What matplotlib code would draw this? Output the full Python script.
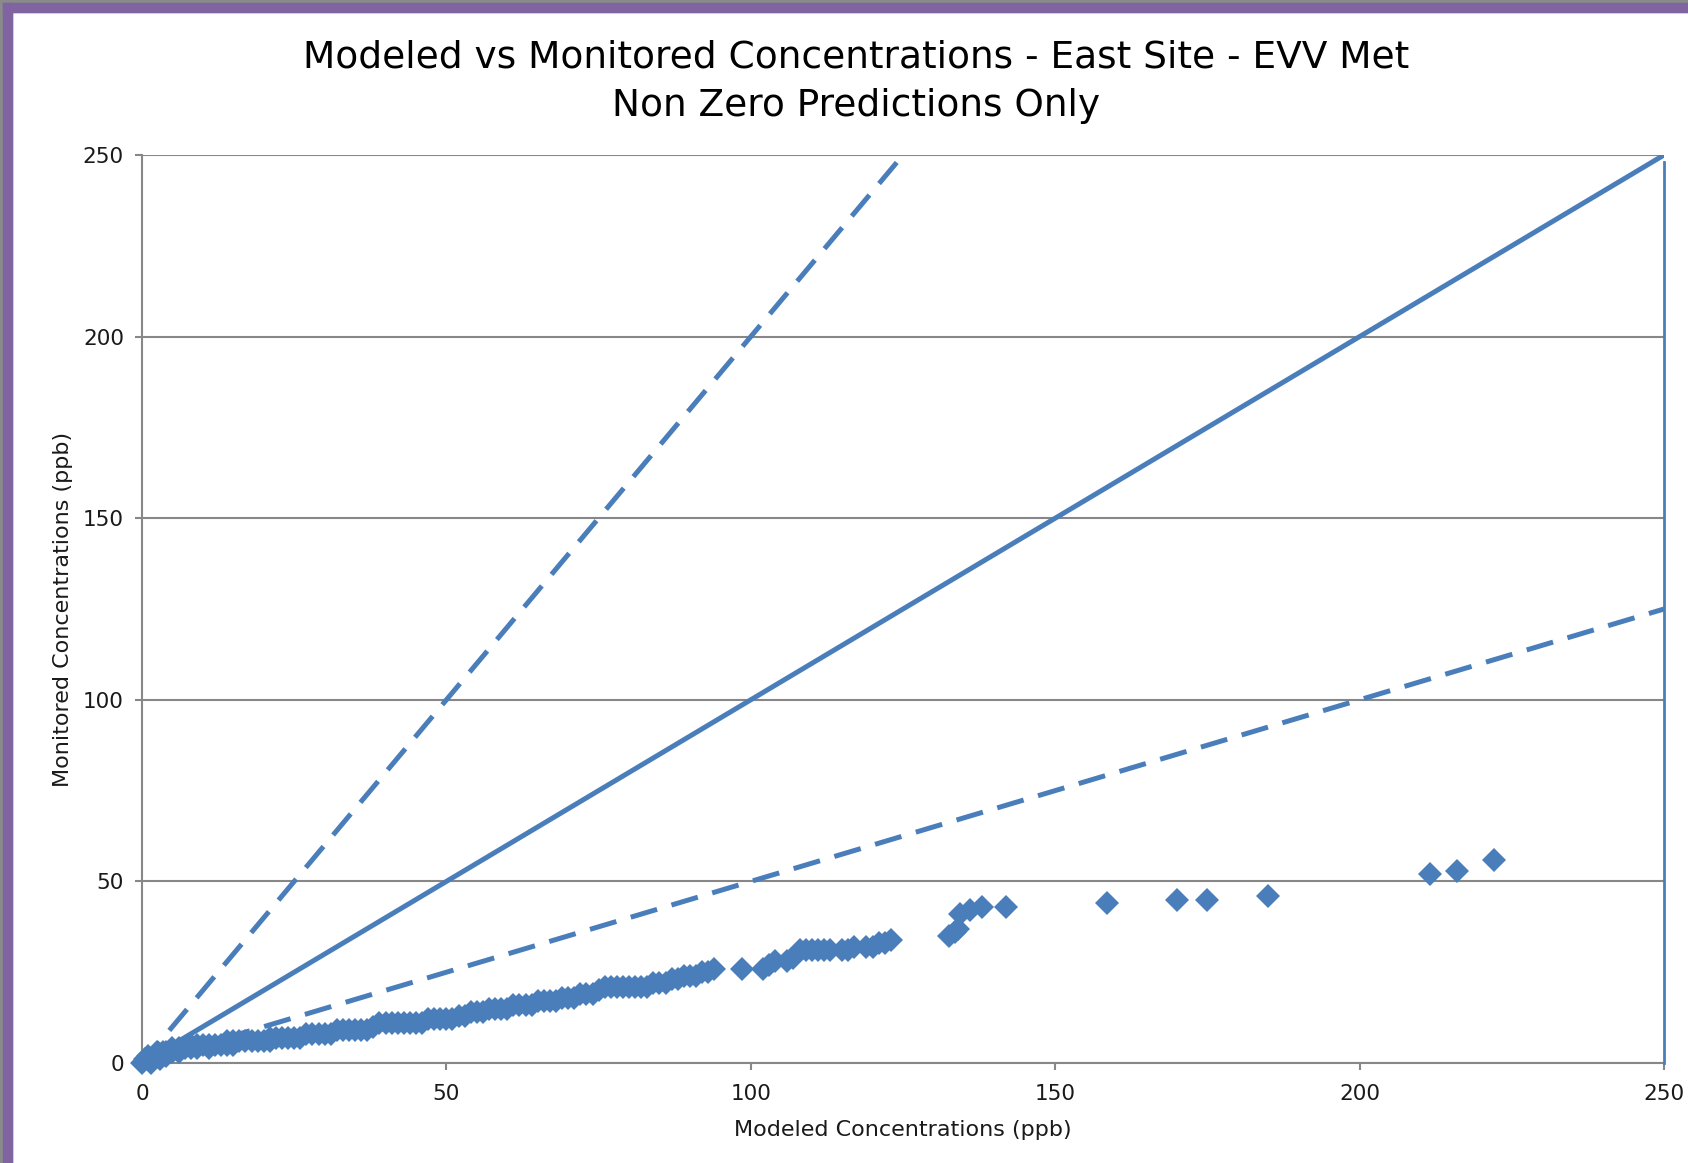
import matplotlib.pyplot as plt
from matplotlib.patches import Rectangle

# Modeled (x) vs monitored (y) concentrations, ppb
modeled = [0, 0.5, 1, 1, 1.5, 2, 2, 2.5, 3, 3, 3.5, 4, 4, 5, 5, 6, 6, 7, 8, 8,
           9, 9, 10, 11, 11, 12, 13, 14, 14, 15, 15, 16, 17, 18, 19, 20, 21, 21,
           22, 23, 24, 25, 26, 27, 28, 29, 30, 31, 32, 33, 34, 35, 36, 37, 38,
           39, 40, 41, 42, 43, 44, 45, 46, 47, 48, 49, 50, 51, 52, 53, 54, 55,
           56, 57, 58, 59, 60, 61, 62, 63, 64, 65, 66, 67, 68, 69, 70, 71, 72,
           73, 74, 75, 76, 77, 78, 79, 80, 81, 82, 83, 84, 85, 86, 87, 88, 89,
           90, 91, 92, 93, 94, 98.5, 102, 103, 104, 106, 107, 108, 109, 110,
           111, 112, 113, 115, 116, 117, 119, 120, 121, 122, 123, 132.5, 133.5,
           134, 134.4, 136, 138, 142, 158.5, 170, 175, 185, 211.5, 216, 222]
monitored = [0, 1, 1, 2, 0, 1, 2, 3, 1, 2, 3, 2, 3, 3, 4, 3, 4, 4, 4, 5,
             4, 5, 5, 4, 5, 5, 5, 5, 6, 5, 6, 6, 6, 6, 6, 6, 6, 7,
             7, 7, 7, 7, 7, 8, 8, 8, 8, 8, 9, 9, 9, 9, 9, 9, 10,
             11, 11, 11, 11, 11, 11, 11, 11, 12, 12, 12, 12, 12, 13, 13, 14, 14,
             14, 15, 15, 15, 15, 16, 16, 16, 16, 17, 17, 17, 17, 18, 18, 18, 19,
             19, 19, 20, 21, 21, 21, 21, 21, 21, 21, 21, 22, 22, 22, 23, 23, 24,
             24, 24, 25, 25, 26, 26, 26, 27, 28, 28, 29, 31, 31, 31,
             31, 31, 31, 31, 31, 32, 32, 32, 33, 33, 34, 35, 36,
             37, 41, 42, 43, 43, 44, 45, 45, 46, 52, 53, 56]

# reference lines: 1:1, factor of two above and below
line_x = [0, 250]
line_1to1 = [0, 250]
line_2x_x = [0, 125]
line_2x = [0, 250]
line_half = [0, 125]

BLUE = "#4A7EBB"
GRID = "#878787"
TXT = "#1a1a1a"

fig = plt.figure(figsize=(16.88, 11.63), dpi=100)
ax = fig.add_axes([142 / 1688, 1 - 1063 / 1163, 1522 / 1688, 908 / 1163])

ax.plot(line_x, line_1to1, color=BLUE, lw=3.6, solid_capstyle="butt", zorder=3)
ax.plot(line_2x_x, line_2x, color=BLUE, lw=3.6, dashes=(5.5, 3), zorder=3)
ax.plot(line_x, line_half, color=BLUE, lw=3.6, dashes=(5.5, 3), zorder=3)
ax.plot([250, 250], [0, 248], color=BLUE, lw=2, zorder=3, clip_on=False)

ax.plot(modeled, monitored, linestyle="none", marker="D", markersize=12,
        markeredgewidth=0, color=BLUE, zorder=4, clip_on=False)

ax.set_xlim(0, 250)
ax.set_ylim(0, 250)
ax.set_xticks(range(0, 251, 50))
ax.set_yticks(range(0, 251, 50))
ax.grid(axis="y", color=GRID, lw=1.5)
ax.set_axisbelow(True)
for side in ("top", "right"):
    ax.spines[side].set_visible(False)
for side in ("left", "bottom"):
    ax.spines[side].set_color(GRID)
    ax.spines[side].set_linewidth(1.5)
ax.tick_params(axis="both", color=GRID, width=1.5, length=5, labelsize=15.5,
               labelcolor=TXT)
ax.tick_params(axis="y", pad=8)
ax.tick_params(axis="x", pad=10)

ax.set_xlabel("Modeled Concentrations (ppb)", fontsize=16, color=TXT,
              labelpad=12)
ax.set_ylabel("Monitored Concentrations (ppb)", fontsize=16, color=TXT,
              labelpad=7)

fig.text(856 / 1688, 1 - 57 / 1163,
         "Modeled vs Monitored Concentrations - East Site - EVV Met",
         ha="center", va="center", fontsize=27)
fig.text(856 / 1688, 1 - 106 / 1163, "Non Zero Predictions Only",
         ha="center", va="center", fontsize=27)

# purple chart-area frame on the left and top edges
fig.patches.append(Rectangle((0, 0), 12 / 1688, 1, transform=fig.transFigure,
                             color="#8A8A8A", zorder=0))
fig.patches.append(Rectangle((3 / 1688, 0), 9 / 1688, 1 - 3 / 1163,
                             transform=fig.transFigure, color="#8064A2", zorder=1))
fig.patches.append(Rectangle((0, 1 - 12 / 1163), 1, 12 / 1163,
                             transform=fig.transFigure, color="#8A8A8A", zorder=0))
fig.patches.append(Rectangle((3 / 1688, 1 - 12 / 1163), 1, 9 / 1163,
                             transform=fig.transFigure, color="#8064A2", zorder=1))

fig.savefig("out.png", dpi=100)
